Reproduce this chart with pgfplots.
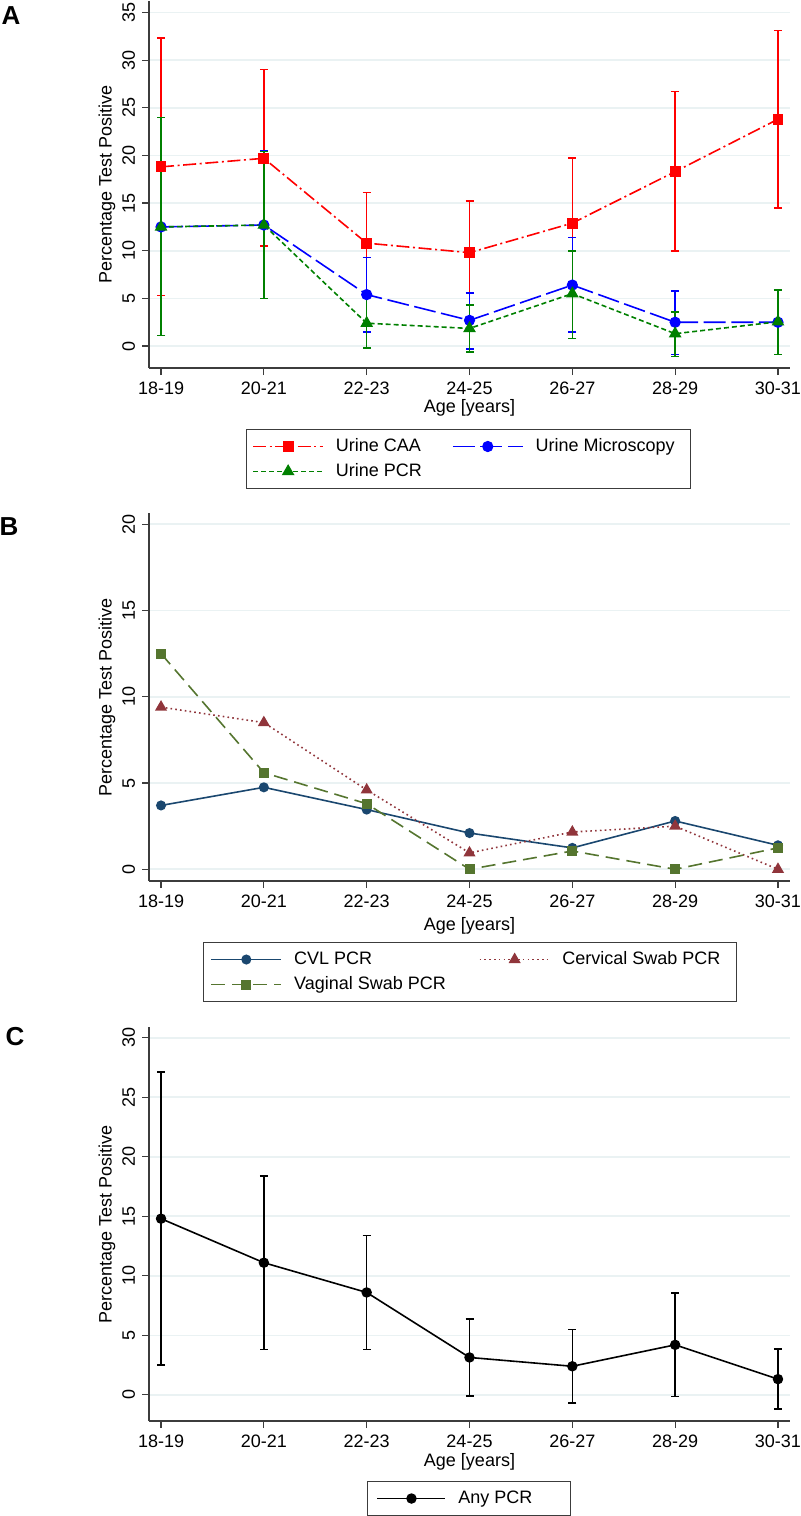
\documentclass[border=0pt]{standalone}
\usepackage{fontspec}
\setmainfont{Liberation Sans}
\usepackage{pgfplots}
\pgfplotsset{compat=1.18}
\usepackage{pgfplotstable}

\definecolor{gridc}{RGB}{234,242,243}
\definecolor{caa}{RGB}{255,0,0}
\definecolor{mic}{RGB}{0,0,255}
\definecolor{upcr}{RGB}{0,128,0}
\definecolor{cvl}{RGB}{26,71,111}
\definecolor{cerv}{RGB}{144,53,59}
\definecolor{vag}{RGB}{85,117,47}
\definecolor{axc}{RGB}{60,60,60}

% panel A: urine tests (estimate, lower, upper)
\pgfplotstableread{
x y lo hi
0 18.8 5.3 32.3
1 19.7 10.5 29.0
2 10.8 5.4 16.1
3 9.8 4.3 15.2
4 12.9 6.5 19.7
5 18.3 10.0 26.7
6 23.8 14.5 33.1
}\caa
\pgfplotstableread{
x y lo hi
0 12.5 1.1 24.0
1 12.7 5.0 20.5
2 5.4 1.5 9.3
3 2.7 -0.3 5.6
4 6.4 1.5 11.4
5 2.5 -0.9 5.8
6 2.5 -0.9 5.9
}\mic
\pgfplotstableread{
x y lo hi
0 12.5 1.1 24.0
1 12.7 5.0 20.4
2 2.4 -0.2 5.1
3 1.85 -0.6 4.3
4 5.5 0.8 10.0
5 1.3 -1.1 3.6
6 2.55 -0.9 5.9
}\upcr
% panel B
\pgfplotstableread{
x cvl cerv vag
0 3.7 9.4 12.5
1 4.75 8.5 5.6
2 3.46 4.6 3.8
3 2.1 0.95 0.0
4 1.24 2.16 1.06
5 2.8 2.5 0.0
6 1.39 0.0 1.24
}\swab
% panel C
\pgfplotstableread{
x y lo hi
0 14.8 2.5 27.1
1 11.1 3.8 18.4
2 8.6 3.8 13.4
3 3.14 -0.08 6.36
4 2.4 -0.7 5.5
5 4.2 -0.14 8.55
6 1.32 -1.18 3.84
}\anypcr

\pgfplotsset{
  stata/.style={
    scale only axis, width=320.5pt,
    xmin=-0.117, xmax=6.117,
    axis x line*=bottom, axis y line*=left,
    axis line style={axc, line width=0.7pt},
    xtick={0,...,6},
    xticklabels={18-19,20-21,22-23,24-25,26-27,28-29,30-31},
    tick align=outside, major tick length=3.5pt,
    tick style={axc, line width=0.6pt},
    ymajorgrids, major grid style={gridc, line width=0.8pt},
    /pgf/number format/assume math mode=true,
    xticklabel style={font=\fontsize{9pt}{10.8pt}\selectfont},
    yticklabel style={font=\fontsize{9pt}{10.8pt}\selectfont, rotate=90, anchor=south},
    ylabel={Percentage Test Positive}, xlabel={Age [years]},
    ylabel style={font=\fontsize{9pt}{10.8pt}\selectfont,
      at={(axis description cs:-0.0655,0.5)}, anchor=center},
    xlabel style={font=\fontsize{9pt}{10.8pt}\selectfont, anchor=center},
    legend cell align=left,
    legend image code/.code={\draw[mark repeat=2,mark phase=2,##1]
      plot coordinates {(0pt,0pt) (17.5pt,0pt) (35pt,0pt)};},
    legend style={anchor=north, draw=axc, line width=0.5pt,
      font=\fontsize{9pt}{10.8pt}\selectfont,
      inner xsep=3pt, inner ysep=4.25pt, row sep=4pt,
      nodes={inner xsep=0pt, inner ysep=0pt, text height=6.5pt, text depth=2pt},
      /tikz/every odd column/.append style={column sep=6pt}},
  },
  ebar/.style={error bars/.cd, y dir=both, y explicit,
    error bar style={solid, line width=0.8pt},
    error mark options={rotate=90, mark size=2pt, line width=0.8pt, solid}},
}

\begin{document}
\begin{tikzpicture}
\useasboundingbox (0,0) rectangle (400pt,-758pt);

\node[font=\bfseries\fontsize{13pt}{13pt}\selectfont] at (5.5pt,-8pt) {A};
\node[font=\bfseries\fontsize{13pt}{13pt}\selectfont] at (4.5pt,-263.5pt) {B};
\node[font=\bfseries\fontsize{13pt}{13pt}\selectfont] at (7.5pt,-518.5pt) {C};

% ---------- A ----------
\begin{axis}[stata, at={(74.5pt,-184pt)}, anchor=south west,
  height=183.5pt, ymin=-2.3, ymax=36.2, ytick={0,5,...,35},
  xlabel style={at={(axis description cs:0.5,0)}, yshift=-20pt},
  legend columns=2,
  legend style={at={(axis description cs:0.4984,-0.1662)},
    /tikz/every even column/.append style={column sep=15pt}}]
\addplot[caa, line width=0.8pt, dash pattern=on 6.5pt off 1.8pt on 1pt off 1.8pt,
  mark=square*, mark size=2.3pt, mark options={solid}, ebar]
  table[x=x, y=y, y error plus expr=\thisrow{hi}-\thisrow{y},
        y error minus expr=\thisrow{y}-\thisrow{lo}] {\caa};
\addlegendentry{Urine CAA}
\addplot[mic, line width=0.8pt, dash pattern=on 11pt off 2.8pt,
  mark=*, mark size=2.4pt, mark options={solid}, ebar]
  table[x=x, y=y, y error plus expr=\thisrow{hi}-\thisrow{y},
        y error minus expr=\thisrow{y}-\thisrow{lo}] {\mic};
\addlegendentry{Urine Microscopy\hspace*{5pt}}
\addplot[upcr, line width=0.8pt, dash pattern=on 2.5pt off 1.5pt,
  mark=triangle*, mark size=2.9pt, mark options={solid}, ebar]
  table[x=x, y=y, y error plus expr=\thisrow{hi}-\thisrow{y},
        y error minus expr=\thisrow{y}-\thisrow{lo}] {\upcr};
\addlegendentry{Urine PCR}
\end{axis}

% ---------- B ----------
\begin{axis}[stata, at={(74.5pt,-440.5pt)}, anchor=south west,
  height=184pt, ymin=-0.68, ymax=20.65, ytick={0,5,...,20},
  xlabel style={at={(axis description cs:0.5,0)}, yshift=-22.5pt},
  legend columns=2,
  legend style={at={(axis description cs:0.5008,-0.1658)}, inner xsep=3.5pt,
    /tikz/every even column/.append style={column sep=16.5pt}}]
\addplot[cvl, line width=0.8pt, mark=*, mark size=2.1pt]
  table[x=x, y=cvl] {\swab};
\addlegendentry{CVL PCR}
\addplot[cerv, line width=0.8pt, dash pattern=on 0.8pt off 1.6pt,
  mark=triangle*, mark size=2.7pt, mark options={solid}]
  table[x=x, y=cerv] {\swab};
\addlegendentry{Cervical Swab PCR\hspace*{4.5pt}}
\addplot[vag, line width=0.8pt, dash pattern=on 7pt off 3.5pt,
  mark=square*, mark size=2.1pt, mark options={solid}]
  table[x=x, y=vag] {\swab};
\addlegendentry{Vaginal Swab PCR}
\end{axis}

% ---------- C ----------
\begin{axis}[stata, at={(74.5pt,-710.5pt)}, anchor=south west,
  height=197pt, ymin=-2.2, ymax=30.9, ytick={0,5,...,30},
  xlabel style={at={(axis description cs:0.5,0)}, yshift=-20.5pt},
  legend image code/.code={\draw[mark repeat=2,mark phase=2,#1]
      plot coordinates {(0pt,0pt) (17pt,0pt) (34pt,0pt)};},
  legend style={at={(axis description cs:0.4992,-0.1523)}, inner xsep=4.5pt}]
\addplot[black, line width=0.8pt, mark=*, mark size=2.2pt, ebar]
  table[x=x, y=y, y error plus expr=\thisrow{hi}-\thisrow{y},
        y error minus expr=\thisrow{y}-\thisrow{lo}] {\anypcr};
\addlegendentry{Any PCR\hspace*{14.5pt}}
\end{axis}
\end{tikzpicture}
\end{document}
